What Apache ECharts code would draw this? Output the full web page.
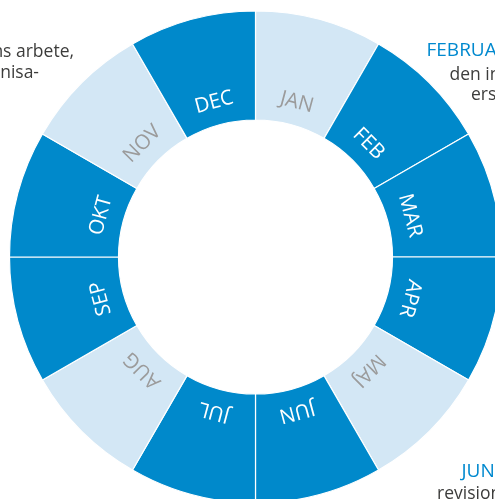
<!DOCTYPE html>
<html>
<head>
<meta charset="utf-8">
<script src="https://cdn.jsdelivr.net/npm/echarts@6/dist/echarts.min.js"></script>
<style>
html,body{margin:0;padding:0;background:#fff;}
#chart{width:495px;height:499px;}
</style>
</head>
<body>
<div id="chart"></div>
<script>
// Months, clockwise from 12 o'clock
const months = ['JAN','FEB','MAR','APR','MAJ','JUN','JUL','AUG','SEP','OKT','NOV','DEC'];
// Every month is an equal slice of the year
const sliceValues = [1,1,1,1,1,1,1,1,1,1,1,1];
// Months drawn in the light shade
const lightMonths = ['JAN','MAJ','AUG','NOV'];

// Surrounding text fragments (cropped in the reference)
const leftLines = ['Revisionens arbete,', 'organisa-'];
const rightHeadline = 'FEBRUARI';
const rightLines = ['den interna', 'ersättning'];
const bottomHeadline = 'JUNI';
const bottomLines = ['revision', 'utvärdering'];

const DARK = '#0089cb';
const LIGHT = '#d3e7f5';
const FONT = '"Open Sans", "Noto Sans", sans-serif';

const chart = echarts.init(document.getElementById('chart'), null, {renderer: 'canvas'});

const ringData = months.map((m, i) => ({
  name: m,
  value: sliceValues[i],
  itemStyle: {color: lightMonths.includes(m) ? LIGHT : DARK}
}));

const labelData = months.map((m, i) => ({
  name: m,
  value: sliceValues[i],
  label: {
    rotate: -(15 + 30 * i),
    color: lightMonths.includes(m) ? '#9b9b9b' : '#ffffff'
  }
}));

const center = [255.5, 257];

function txt(x, y, text, size, color) {
  return {
    type: 'text', x: x, y: y, silent: true,
    style: {text: text, fontSize: size, fontFamily: FONT, fill: color, align: 'left', verticalAlign: 'alphabetic'}
  };
}
function txtR(x, y, text, size, color) {
  const t = txt(x, y, text, size, color);
  t.style.align = 'right';
  return t;
}

chart.setOption({
  backgroundColor: '#ffffff',
  animation: false,
  series: [
    {
      type: 'pie',
      center: center,
      radius: [137, 246],
      startAngle: 90,
      clockwise: true,
      silent: true,
      label: {show: false},
      labelLine: {show: false},
      itemStyle: {borderColor: '#ffffff', borderWidth: 1.2},
      data: ringData
    },
    {
      type: 'pie',
      center: center,
      radius: [137, 177],
      startAngle: 90,
      clockwise: true,
      silent: true,
      avoidLabelOverlap: false,
      itemStyle: {color: 'rgba(0,0,0,0)', borderWidth: 0},
      label: {
        show: true,
        position: 'inside',
        formatter: '{b}',
        fontFamily: FONT,
        fontSize: 20.5,
        fontWeight: 'normal'
      },
      labelLine: {show: false},
      data: labelData
    }
  ],
  graphic: [
    txtR(74, 43, leftLines[0], 17.5, '#3c3c3b'),
    txtR(39, 64.5, leftLines[1], 17.5, '#3c3c3b'),
    txt(426.5, 41, rightHeadline, 19, '#0089cf'),
    txt(449.5, 66.5, rightLines[0], 17.5, '#3c3c3b'),
    txt(471, 86, rightLines[1], 17.5, '#3c3c3b'),
    txt(461.5, 462, bottomHeadline, 19, '#0089cf'),
    txt(437, 485, bottomLines[0], 17.5, '#3c3c3b'),
    txt(406, 510, bottomLines[1], 17.5, '#3c3c3b')
  ]
});
</script>
</body>
</html>
